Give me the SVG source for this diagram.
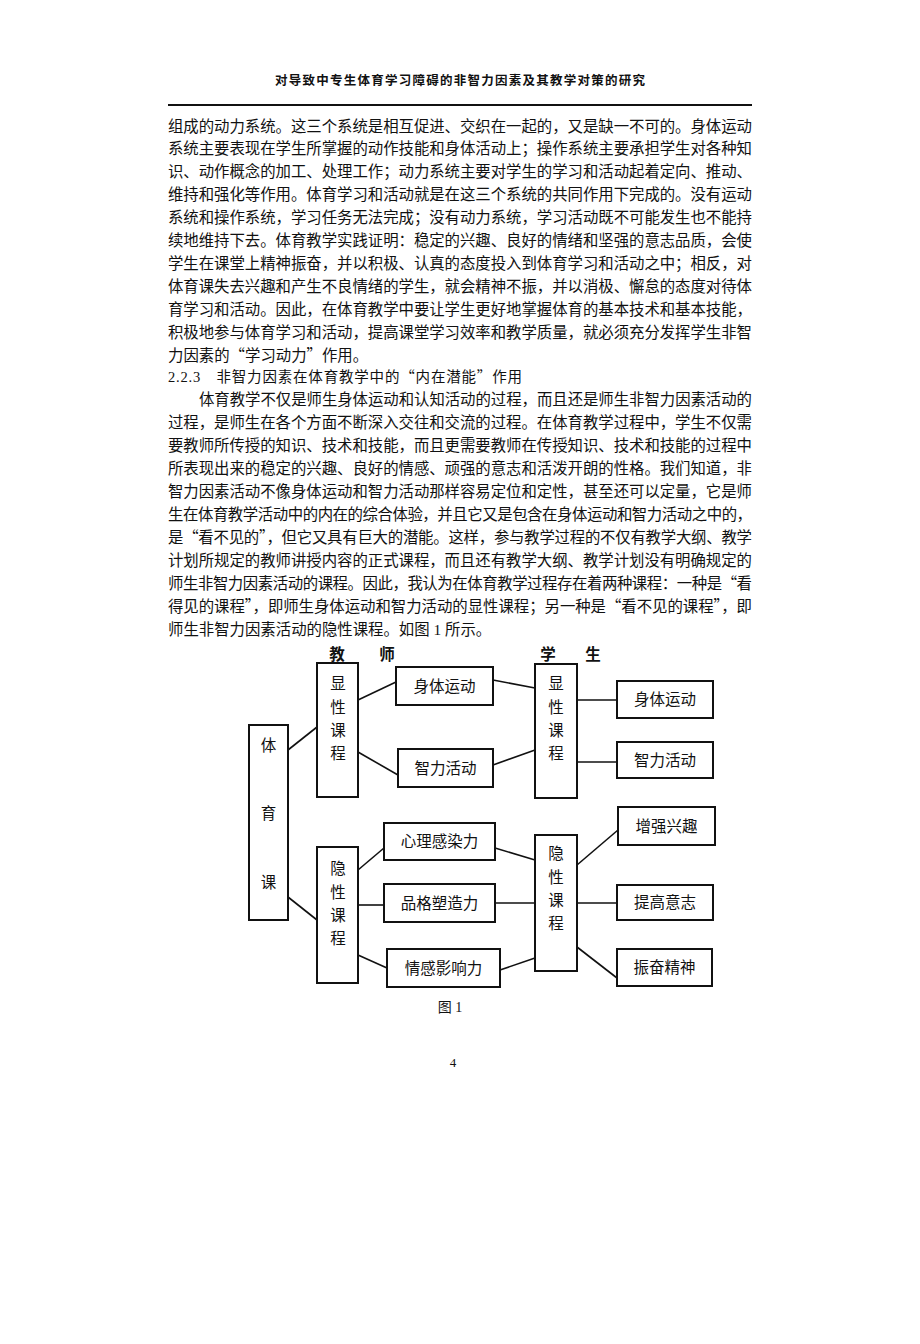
<svg xmlns="http://www.w3.org/2000/svg" width="920" height="1344" viewBox="0 0 920 1344">
<style>
.hd{font-family:"Noto Sans CJK SC","Liberation Sans",sans-serif;font-size:12.5px;font-weight:bold;fill:#111}
.b{font-family:"Liberation Serif","Noto Sans CJK SC",serif;font-size:15.4px;fill:#111}
.q{font-family:"Noto Sans CJK SC","Liberation Serif",serif}
.sec{font-family:"Liberation Serif","Noto Sans CJK SC",serif;font-size:14.5px;fill:#111}
.n{font-family:"Liberation Serif","Noto Sans CJK SC",serif;font-size:15.5px;fill:#111;text-anchor:middle;dominant-baseline:central}
.lb{font-family:"Noto Sans CJK SC",sans-serif;font-size:15.5px;font-weight:bold;fill:#111;text-anchor:middle;dominant-baseline:central}
.bx{fill:#fff;stroke:#111;stroke-width:2}
.cn line{stroke:#111;stroke-width:1.6}
</style>
<rect x="0" y="0" width="920" height="1344" fill="#fff"/>
<g id="header">
<text class="hd" x="275" y="85" textLength="370" lengthAdjust="spacing">对导致中专生体育学习障碍的非智力因素及其教学对策的研究</text>
<line x1="168" y1="105" x2="752" y2="105" stroke="#111" stroke-width="1.8"/>
</g>
<g id="body">
<text class="b" x="168" y="131.5" textLength="584" lengthAdjust="spacing">组成的动力系统。这三个系统是相互促进、交织在一起的，又是缺一不可的。身体运动</text>
<text class="b" x="168" y="154.4" textLength="584" lengthAdjust="spacing">系统主要表现在学生所掌握的动作技能和身体活动上；操作系统主要承担学生对各种知</text>
<text class="b" x="168" y="177.3" textLength="584" lengthAdjust="spacing">识、动作概念的加工、处理工作；动力系统主要对学生的学习和活动起着定向、推动、</text>
<text class="b" x="168" y="200.2" textLength="584" lengthAdjust="spacing">维持和强化等作用。体育学习和活动就是在这三个系统的共同作用下完成的。没有运动</text>
<text class="b" x="168" y="223.1" textLength="584" lengthAdjust="spacing">系统和操作系统，学习任务无法完成；没有动力系统，学习活动既不可能发生也不能持</text>
<text class="b" x="168" y="246" textLength="584" lengthAdjust="spacing">续地维持下去。体育教学实践证明：稳定的兴趣、良好的情绪和坚强的意志品质，会使</text>
<text class="b" x="168" y="268.9" textLength="584" lengthAdjust="spacing">学生在课堂上精神振奋，并以积极、认真的态度投入到体育学习和活动之中；相反，对</text>
<text class="b" x="168" y="291.8" textLength="584" lengthAdjust="spacing">体育课失去兴趣和产生不良情绪的学生，就会精神不振，并以消极、懈怠的态度对待体</text>
<text class="b" x="168" y="314.7" textLength="584" lengthAdjust="spacing">育学习和活动。因此，在体育教学中要让学生更好地掌握体育的基本技术和基本技能，</text>
<text class="b" x="168" y="337.6" textLength="584" lengthAdjust="spacing">积极地参与体育学习和活动，提高课堂学习效率和教学质量，就必须充分发挥学生非智</text>
<text class="b" x="168" y="360.5">力因素的<tspan class="q">“</tspan>学习动力<tspan class="q">”</tspan>作用。</text>
<text class="sec" x="168" y="381.5" textLength="354" lengthAdjust="spacing">2.2.3　非智力因素在体育教学中的<tspan class="q">“</tspan>内在潜能<tspan class="q">”</tspan>作用</text>
<text class="b" x="199" y="404.5" textLength="553" lengthAdjust="spacing">体育教学不仅是师生身体运动和认知活动的过程，而且还是师生非智力因素活动的</text>
<text class="b" x="168" y="427.5" textLength="584" lengthAdjust="spacing">过程，是师生在各个方面不断深入交往和交流的过程。在体育教学过程中，学生不仅需</text>
<text class="b" x="168" y="450.5" textLength="584" lengthAdjust="spacing">要教师所传授的知识、技术和技能，而且更需要教师在传授知识、技术和技能的过程中</text>
<text class="b" x="168" y="473.5" textLength="584" lengthAdjust="spacing">所表现出来的稳定的兴趣、良好的情感、顽强的意志和活泼开朗的性格。我们知道，非</text>
<text class="b" x="168" y="496.5" textLength="584" lengthAdjust="spacing">智力因素活动不像身体运动和智力活动那样容易定位和定性，甚至还可以定量，它是师</text>
<text class="b" x="168" y="519.5" textLength="584" lengthAdjust="spacing">生在体育教学活动中的内在的综合体验，并且它又是包含在身体运动和智力活动之中的，</text>
<text class="b" x="168" y="542.5" textLength="584" lengthAdjust="spacing">是<tspan class="q">“</tspan>看不见的<tspan class="q">”</tspan>，但它又具有巨大的潜能。这样，参与教学过程的不仅有教学大纲、教学</text>
<text class="b" x="168" y="565.5" textLength="584" lengthAdjust="spacing">计划所规定的教师讲授内容的正式课程，而且还有教学大纲、教学计划没有明确规定的</text>
<text class="b" x="168" y="588.5" textLength="584" lengthAdjust="spacing">师生非智力因素活动的课程。因此，我认为在体育教学过程存在着两种课程：一种是<tspan class="q">“</tspan>看</text>
<text class="b" x="168" y="611.5" textLength="584" lengthAdjust="spacing">得见的课程<tspan class="q">”</tspan>，即师生身体运动和智力活动的显性课程；另一种是<tspan class="q">“</tspan>看不见的课程<tspan class="q">”</tspan>，即</text>
<text class="b" x="168" y="634.5">师生非智力因素活动的隐性课程。如图 1 所示。</text>
</g>
<g id="labels">
<text class="lb" x="337" y="653">教</text>
<text class="lb" x="387" y="653">师</text>
<text class="lb" x="548" y="653">学</text>
<text class="lb" x="593" y="653">生</text>
</g>
<g id="connectors" class="cn">
<line x1="288" y1="750" x2="317" y2="727"/>
<line x1="288" y1="897" x2="317" y2="920"/>
<line x1="358" y1="700" x2="396" y2="682"/>
<line x1="358" y1="752" x2="398" y2="775"/>
<line x1="358" y1="870" x2="384" y2="848"/>
<line x1="358" y1="905" x2="384" y2="905"/>
<line x1="358" y1="955" x2="387" y2="968"/>
<line x1="493" y1="680" x2="535" y2="688"/>
<line x1="493" y1="765" x2="535" y2="750"/>
<line x1="495" y1="848" x2="535" y2="860"/>
<line x1="495" y1="903" x2="535" y2="903"/>
<line x1="500" y1="970" x2="535" y2="958"/>
<line x1="577" y1="700" x2="617" y2="700"/>
<line x1="577" y1="762" x2="617" y2="762"/>
<line x1="577" y1="865" x2="618" y2="830"/>
<line x1="577" y1="903" x2="617" y2="903"/>
<line x1="577" y1="947" x2="617" y2="978"/>
</g>
<g id="tiyuke">
<rect class="bx" x="249" y="725" width="39" height="195"/>
<text class="n" x="268.5" y="745">体</text>
<text class="n" x="268.5" y="813">育</text>
<text class="n" x="268.5" y="882">课</text>
</g>
<g id="t-xianxing">
<rect class="bx" x="317" y="663" width="41" height="134"/>
<text class="n" x="338" y="683">显</text>
<text class="n" x="338" y="707">性</text>
<text class="n" x="338" y="730">课</text>
<text class="n" x="338" y="753">程</text>
</g>
<g id="t-yinxing">
<rect class="bx" x="317" y="847" width="41" height="136"/>
<text class="n" x="338" y="868">隐</text>
<text class="n" x="338" y="892">性</text>
<text class="n" x="338" y="915">课</text>
<text class="n" x="338" y="938">程</text>
</g>
<g id="s-xianxing">
<rect class="bx" x="535" y="664" width="42" height="134"/>
<text class="n" x="556" y="683">显</text>
<text class="n" x="556" y="707">性</text>
<text class="n" x="556" y="730">课</text>
<text class="n" x="556" y="753">程</text>
</g>
<g id="s-yinxing">
<rect class="bx" x="535" y="835" width="42" height="136"/>
<text class="n" x="556" y="853">隐</text>
<text class="n" x="556" y="877">性</text>
<text class="n" x="556" y="900">课</text>
<text class="n" x="556" y="923">程</text>
</g>
<g id="t-shenti">
<rect class="bx" x="396" y="667" width="97" height="38"/>
<text class="n" x="444.5" y="686">身体运动</text>
</g>
<g id="t-zhili">
<rect class="bx" x="398" y="749" width="95" height="38"/>
<text class="n" x="445.5" y="768">智力活动</text>
</g>
<g id="t-xinli">
<rect class="bx" x="384" y="823" width="111" height="37"/>
<text class="n" x="439.5" y="841.5">心理感染力</text>
</g>
<g id="t-pinge">
<rect class="bx" x="384" y="884" width="111" height="38"/>
<text class="n" x="439.5" y="903">品格塑造力</text>
</g>
<g id="t-qinggan">
<rect class="bx" x="387" y="949" width="113" height="38"/>
<text class="n" x="443.5" y="968">情感影响力</text>
</g>
<g id="s-shenti">
<rect class="bx" x="617" y="681" width="96" height="37"/>
<text class="n" x="665" y="699.5">身体运动</text>
</g>
<g id="s-zhili">
<rect class="bx" x="617" y="742" width="96" height="36"/>
<text class="n" x="665" y="760">智力活动</text>
</g>
<g id="s-zengqiang">
<rect class="bx" x="618" y="807" width="97" height="38"/>
<text class="n" x="666.5" y="826">增强兴趣</text>
</g>
<g id="s-tigao">
<rect class="bx" x="617" y="885" width="96" height="35"/>
<text class="n" x="665" y="902.5">提高意志</text>
</g>
<g id="s-zhenfen">
<rect class="bx" x="617" y="949" width="95" height="37"/>
<text class="n" x="664.5" y="967.5">振奋精神</text>
</g>
<g id="caption">
<text class="n" x="450" y="1007" style="font-size:14px">图 1</text>
<text class="n" x="453" y="1062" style="font-size:13px">4</text>
</g>
</svg>
